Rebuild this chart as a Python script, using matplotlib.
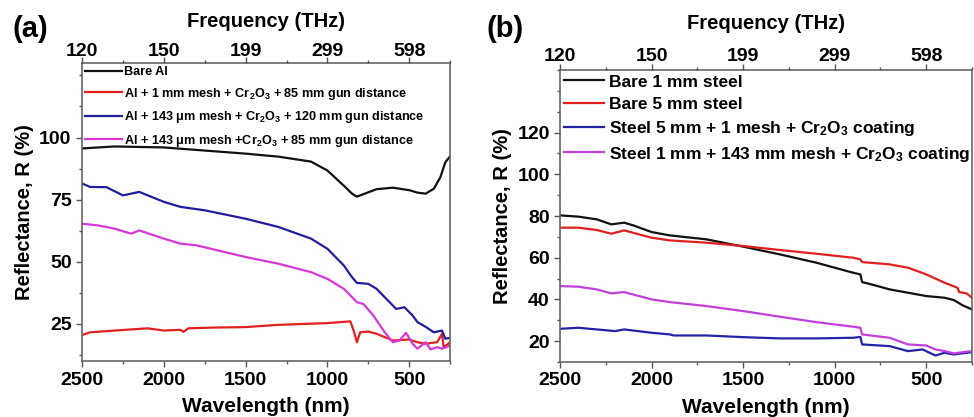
import numpy as np
import matplotlib
matplotlib.use("Agg")
import matplotlib.pyplot as plt
from matplotlib.ticker import MultipleLocator, FixedLocator

plt.rcParams['font.family'] = ['Liberation Sans', 'DejaVu Sans']
plt.rcParams['font.weight'] = 'bold'
plt.rcParams['mathtext.fontset'] = 'custom'
plt.rcParams['mathtext.rm'] = 'Liberation Sans:bold'
plt.rcParams['mathtext.it'] = 'Liberation Sans:bold'
plt.rcParams['mathtext.bf'] = 'Liberation Sans:bold'
plt.rcParams['mathtext.default'] = 'rm'

# ---- data ----
# top axis: frequency labels at these wavelengths
top_wl = [2500, 2000, 1500, 1000, 500]
freq_labels = ['120', '150', '199', '299', '598']

# panel (a)
a_black_wl = [2500, 2300, 2000, 1500, 1300, 1100, 1000, 900, 850, 820, 800, 700, 600, 500, 450, 400, 350, 310, 280, 250]
a_black_R = [95.6, 96.4, 96.0, 93.5, 92.3, 90.3, 86.7, 80.6, 77.4, 76.2, 76.7, 79.2, 79.8, 78.8, 77.8, 77.4, 79.4, 84.0, 90.0, 92.5]

a_red_wl = [2500, 2450, 2300, 2100, 2000, 1900, 1880, 1850, 1700, 1500, 1300, 1000, 860, 840, 820, 800, 750, 700, 600, 500, 450, 400, 330, 300, 290, 250]
a_red_R = [20.5, 21.6, 22.3, 23.2, 22.3, 22.6, 21.8, 23.2, 23.5, 23.7, 24.6, 25.3, 26.0, 22.3, 17.6, 21.6, 21.9, 21.0, 18.3, 18.7, 17.6, 17.0, 17.6, 21.0, 15.6, 17.6]

a_blue_wl = [2500, 2450, 2350, 2250, 2150, 2000, 1900, 1750, 1500, 1300, 1100, 1000, 900, 850, 820, 750, 700, 620, 580, 530, 480, 450, 400, 350, 300, 280, 250]
a_blue_R = [81.5, 80.1, 80.0, 76.7, 78.1, 74.1, 72.1, 70.7, 67.3, 64.0, 59.3, 55.2, 48.5, 43.8, 41.5, 41.1, 39.1, 33.7, 31.0, 31.7, 28.4, 25.7, 23.8, 21.6, 22.3, 19.0, 19.4]

a_mag_wl = [2500, 2400, 2300, 2200, 2150, 2000, 1900, 1800, 1500, 1300, 1100, 1000, 900, 850, 820, 780, 720, 650, 600, 560, 520, 480, 450, 400, 370, 330, 300, 250]
a_mag_R = [65.3, 64.6, 63.3, 61.3, 62.6, 59.3, 57.3, 56.6, 51.9, 49.2, 45.8, 43.1, 39.1, 35.8, 33.7, 33.0, 28.4, 21.6, 17.6, 18.3, 21.4, 17.0, 15.0, 17.6, 14.7, 15.6, 15.0, 16.3]

# panel (b)
b_black_wl = [2500, 2400, 2300, 2220, 2150, 2100, 2000, 1900, 1700, 1500, 1300, 1100, 900, 860, 850, 800, 700, 600, 500, 400, 350, 300, 250]
b_black_R = [80.3, 79.7, 78.4, 76.0, 76.8, 75.5, 72.3, 70.7, 68.8, 65.3, 61.6, 57.6, 52.8, 52.0, 48.3, 47.2, 44.8, 43.2, 41.6, 40.8, 39.7, 37.1, 35.2]

b_red_wl = [2500, 2400, 2300, 2220, 2150, 2000, 1900, 1700, 1500, 1300, 1100, 900, 860, 850, 700, 600, 500, 400, 330, 320, 280, 250]
b_red_R = [74.4, 74.4, 73.3, 71.5, 73.1, 69.6, 68.3, 67.2, 65.6, 63.7, 61.9, 60.0, 59.2, 57.9, 56.8, 55.2, 52.0, 48.0, 45.6, 43.5, 42.9, 40.8]

b_blue_wl = [2500, 2400, 2300, 2200, 2150, 2000, 1900, 1880, 1700, 1500, 1300, 1100, 900, 860, 850, 700, 600, 520, 450, 400, 350, 250]
b_blue_R = [25.9, 26.4, 25.6, 24.8, 25.6, 24.0, 23.2, 22.7, 22.7, 21.9, 21.3, 21.3, 21.6, 22.0, 18.4, 17.6, 15.2, 16.0, 13.1, 14.4, 13.6, 14.7]

b_mag_wl = [2500, 2400, 2300, 2220, 2150, 2000, 1900, 1700, 1500, 1300, 1100, 900, 860, 850, 700, 600, 500, 450, 400, 350, 300, 250]
b_mag_R = [46.4, 46.1, 44.8, 42.9, 43.5, 40.0, 38.7, 36.8, 34.4, 31.7, 29.1, 26.9, 26.4, 23.2, 21.6, 18.4, 17.9, 16.0, 15.2, 14.1, 14.7, 15.2]

a_labels = ['Bare Al',
            r'Al + 1 mm mesh + Cr$_2$O$_3$ + 85 mm gun distance',
            r'Al + 143 μm mesh + Cr$_2$O$_3$ + 120 mm gun distance',
            r'Al + 143 μm mesh +Cr$_2$O$_3$ + 85 mm gun distance']
b_labels = ['Bare 1 mm steel',
            'Bare 5 mm steel',
            r'Steel 5 mm + 1 mesh + Cr$_2$O$_3$ coating',
            r'Steel 1 mm + 143 mm mesh + Cr$_2$O$_3$ coating']

colors = ['#111111', '#e0201e', '#1f1f9e', '#d838d8']
b_colors = ['#111111', '#e0201e', '#2323a8', '#c23fdc']

fig = plt.figure(figsize=(9.74, 4.17), dpi=100)
axA = fig.add_axes([0.0842, 0.134, 0.378, 0.715])
axB = fig.add_axes([0.575, 0.132, 0.423, 0.700])

def style(ax, ylim, ymaj, ymin, toppad, toplabelpad):
    ax.set_xlim(2500, 250)
    ax.set_ylim(*ylim)
    ax.xaxis.set_major_locator(FixedLocator([2500, 2000, 1500, 1000, 500]))
    ax.xaxis.set_minor_locator(MultipleLocator(250))
    ax.yaxis.set_major_locator(FixedLocator(ymaj))
    ax.yaxis.set_minor_locator(MultipleLocator(ymin))
    ax.tick_params(which='major', direction='out', length=4, width=1, labelsize=14, color='#555555')
    ax.tick_params(which='minor', direction='out', length=2.5, width=1, color='#555555')
    for s in ax.spines.values():
        s.set_color('#666666')
        s.set_linewidth(1.2)
    ax.set_xlabel('Wavelength (nm)', fontsize=15, fontweight='bold', labelpad=6)
    ax.set_ylabel('Reflectance, R (%)', fontsize=14.5, fontweight='bold', labelpad=4)
    top = ax.twiny()
    top.set_xlim(ax.get_xlim())
    top.xaxis.set_major_locator(FixedLocator(top_wl))
    top.set_xticklabels(freq_labels)
    top.xaxis.set_minor_locator(MultipleLocator(250))
    top.tick_params(which='major', direction='out', length=4, width=1, labelsize=14, color='#555555', pad=toppad)
    top.tick_params(which='minor', direction='out', length=2.5, width=1, color='#555555')
    top.set_xlabel('Frequency (THz)', fontsize=14.5, fontweight='bold', labelpad=toplabelpad)
    for s in top.spines.values():
        s.set_visible(False)
    return top

# panel (a)
for wl, R, c, lab in zip([a_black_wl, a_red_wl, a_blue_wl, a_mag_wl],
                         [a_black_R, a_red_R, a_blue_R, a_mag_R], colors, a_labels):
    axA.plot(wl, R, color=c, lw=1.6, label=lab)
style(axA, (10, 130), [25, 50, 75, 100], 12.5, -2, 12)
axA.legend(loc='upper left', bbox_to_anchor=(0.0, 1.0), frameon=False, fontsize=9.1,
           handlelength=2.9, handletextpad=0.2, labelspacing=0.6, borderaxespad=0.05, borderpad=0.2)

# panel (b)
for wl, R, c, lab in zip([b_black_wl, b_red_wl, b_blue_wl, b_mag_wl],
                         [b_black_R, b_red_R, b_blue_R, b_mag_R], b_colors, b_labels):
    axB.plot(wl, R, color=c, lw=1.6, label=lab)
style(axB, (10, 150), [20, 40, 60, 80, 100, 120], 10, 0, 13)
axB.legend(loc='upper left', bbox_to_anchor=(0.0, 1.0), frameon=False, fontsize=12.5,
           handlelength=2.3, handletextpad=0.25, labelspacing=0.4, borderaxespad=0.05, borderpad=0.2)

fig.text(0.013, 0.93, '(a)', fontsize=21, fontweight='bold', va='center')
fig.text(0.500, 0.93, '(b)', fontsize=21, fontweight='bold', va='center')

fig.savefig('out.png', dpi=100)
